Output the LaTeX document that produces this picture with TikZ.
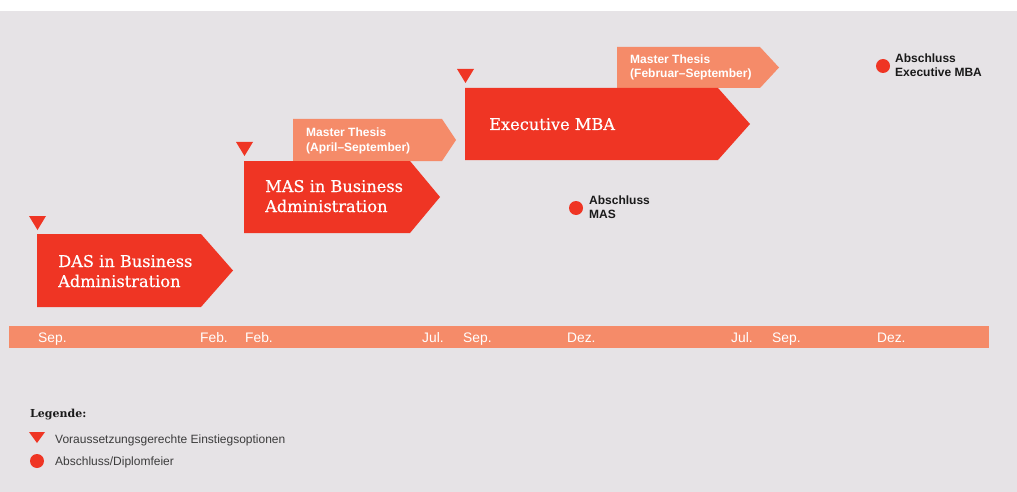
\documentclass[tikz,border=0pt]{standalone}
\usepackage{fontspec}
\setmainfont{DejaVu Serif}
\setsansfont{Liberation Sans}
\newfontfamily\slabfont[FakeBold=0.5]{DejaVu Serif}
\definecolor{bggray}{HTML}{E6E3E6}
\definecolor{progred}{HTML}{EF3524}
\definecolor{salmon}{HTML}{F58B69}
\definecolor{ink}{HTML}{1A1A1A}

\begin{document}
\begin{tikzpicture}[x=1pt,y=-1pt,
  progtext/.style={text=white,font=\slabfont\fontsize{16.2}{20}\selectfont,align=left,anchor=base west,inner sep=0pt},
  thesistext/.style={text=white,font=\sffamily\bfseries\fontsize{12}{14}\selectfont,align=left,anchor=base west,inner sep=0pt},
  donetext/.style={text=ink,font=\sffamily\bfseries\fontsize{12}{13.5}\selectfont,align=left,anchor=base west,inner sep=0pt},
  month/.style={text=white,font=\sffamily\fontsize{13.8}{15}\selectfont,anchor=base west,inner sep=0pt},
  legtext/.style={text=ink!85,font=\sffamily\fontsize{12}{14}\selectfont,anchor=base west,inner sep=0pt}]
\useasboundingbox (0,0) rectangle (1017,492);
\fill[bggray] (0,11) rectangle (1017,492);
% time line
\fill[salmon] (9,326) rectangle (989,348);
\foreach \x/\m in {38/Sep.,200/Feb.,245/Feb.,422/Jul.,463/Sep.,567/Dez.,731/Jul.,772/Sep.,877/Dez.}
  \node[month] (m\x) at (\x,342) {\m};
% thesis arrows
\fill[salmon] (293,119) -- (442,119) -- (456,140) -- (442,161) -- (293,161) -- cycle;
\fill[salmon] (617,47) -- (760,47) -- (779,67.5) -- (760,88) -- (617,88) -- cycle;
\node[thesistext] (thesisA) at (306,151) {Master Thesis\\(April--September)};
\node[thesistext] (thesisB) at (630,78) {Master Thesis\\(Februar--September)};
% programmes
\fill[progred] (37,234) -- (201,234) -- (233,270.5) -- (201,307) -- (37,307) -- cycle;
\fill[progred] (244,161) -- (410,161) -- (440,197) -- (410,233) -- (244,233) -- cycle;
\fill[progred] (465,88) -- (718,88) -- (750,124) -- (718,160) -- (465,160) -- cycle;
\node[progtext] (das) at (58,287) {DAS in Business\\Administration};
\node[progtext] (mas) at (265,212) {MAS in Business\\Administration};
\node[progtext] (emba) at (489,130) {Executive MBA};
% entry options
\foreach \x/\y in {37.5/216,244.5/142,465.5/69}
  \fill[progred] (\x-8.5,\y) -- (\x+8.5,\y) -- (\x,\y+14) -- cycle;
% graduations
\fill[progred] (576,208) circle (7);
\fill[progred] (883,66) circle (7);
\node[donetext] (doneMAS) at (589,218.5) {Abschluss\\MAS};
\node[donetext] (doneEMBA) at (895,76.5) {Abschluss\\Executive MBA};
% legend
\node[anchor=base west,inner sep=0pt,text=ink,font=\bfseries\fontsize{11}{12}\selectfont] (leg) at (30,417) {Legende:};
\fill[progred] (29,432) -- (45,432) -- (37,443) -- cycle;
\fill[progred] (37,461) circle (7);
\node[legtext] (legA) at (55,443) {Voraussetzungsgerechte Einstiegsoptionen};
\node[legtext] (legB) at (55,465.5) {Abschluss/Diplomfeier};
\end{tikzpicture}
\end{document}
